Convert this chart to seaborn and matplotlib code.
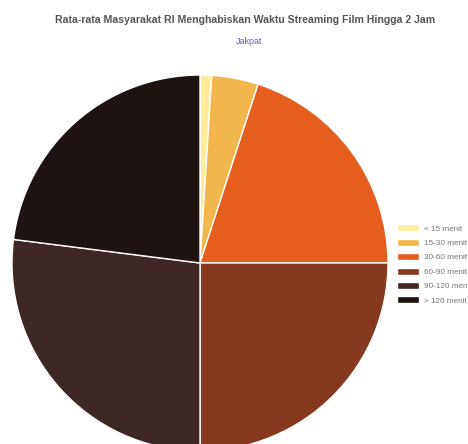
import matplotlib
matplotlib.use("Agg")
import matplotlib.pyplot as plt
import seaborn as sns

# data (percent)
labels = ["< 15 menit", "15-30 menit", "30-60 menit", "60-90 menit", "90-120 menit", "> 120 menit"]
values = [1, 4, 20, 25, 27, 23]
colors = ["#FDEC9C", "#F3B64C", "#E55E20", "#87391F", "#3E2724", "#1D1311"]

sns.set_style("white")
palette = sns.color_palette(colors)

fig = plt.figure(figsize=(4.68, 4.44), dpi=100)
ax = fig.add_axes([0, 0, 1, 1])
wedges, _ = ax.pie(values, colors=palette, startangle=90, counterclock=False,
                   center=(200, 444 - 263), radius=188,
                   wedgeprops=dict(edgecolor="white", linewidth=1))
ax.set_xlim(0, 468)
ax.set_ylim(0, 444)
ax.set_aspect("auto")
ax.axis("off")

fig.text(245 / 468, 1 - 20 / 444, "Rata-rata Masyarakat RI Menghabiskan Waktu Streaming Film Hingga 2 Jam",
         ha="center", va="center", fontsize=7.6, fontweight="bold", color="#555555",
         family="Liberation Sans")
fig.text(249 / 468, 1 - 42 / 444, "Jakpat", ha="center", va="center", fontsize=6.5,
         color="#5a62b5", family="Liberation Sans")

leg = ax.legend(wedges, labels, loc="upper left", bbox_to_anchor=(394 / 468, 1 - 221 / 444),
                frameon=False, handlelength=2.6, handleheight=0.95,
                labelspacing=0.74, handletextpad=0.65, borderaxespad=0,
                prop={"family": "Liberation Sans", "size": 5.9})
for t in leg.get_texts():
    t.set_color("#777777")

fig.savefig("out.png", dpi=100)
